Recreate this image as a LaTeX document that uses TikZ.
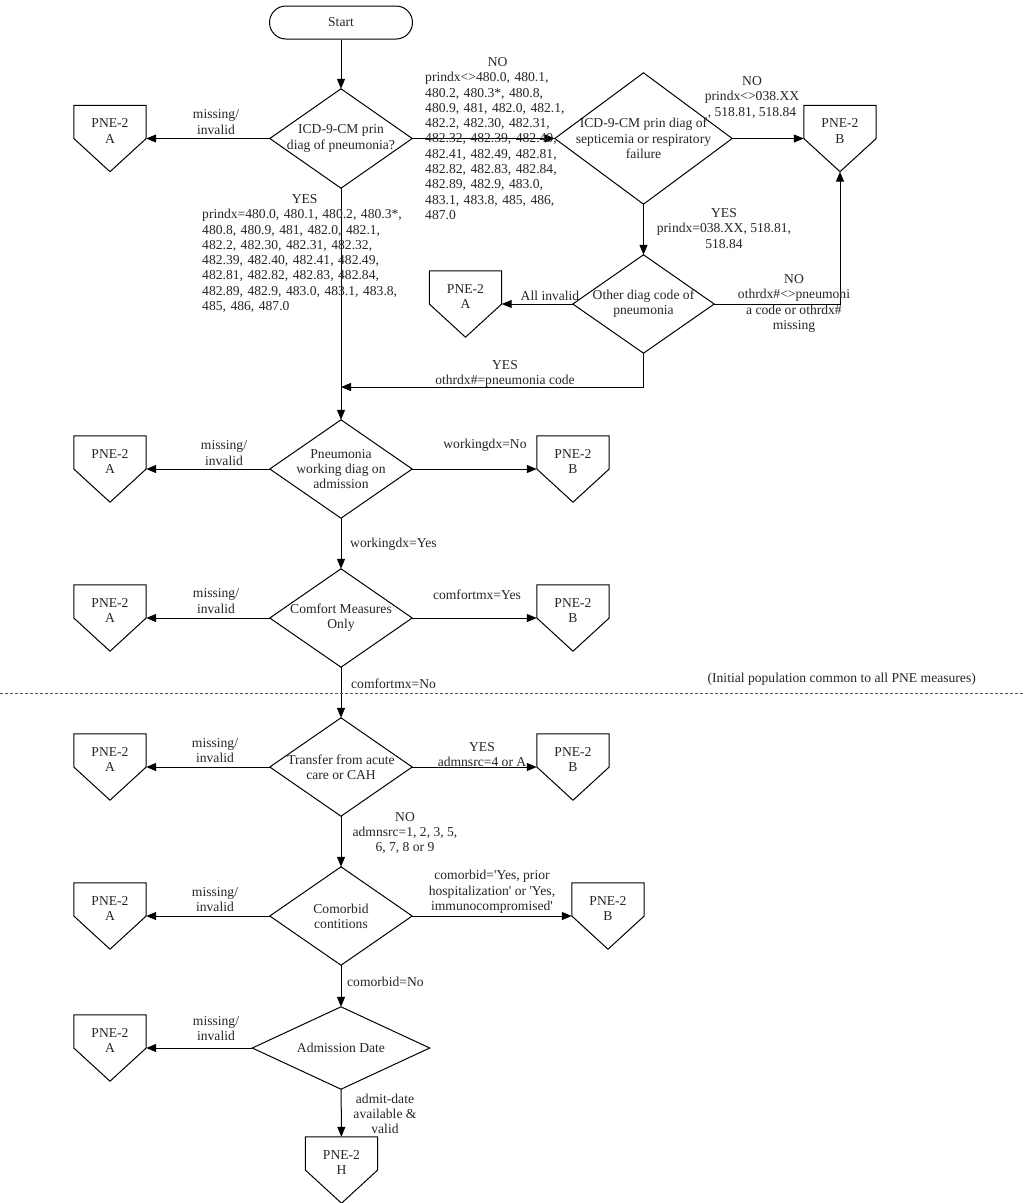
\documentclass[tikz,border=0pt]{standalone}
\usepackage{fontspec}
\setmainfont{Liberation Serif}
\usetikzlibrary{arrows.meta}

\tikzset{
  base/.style={font=\fontsize{13.6pt}{15.3pt}\selectfont, text=black!85, inner sep=0pt, align=center},
  decision/.style 2 args={base, rectangle, minimum width=#1pt, minimum height=#2pt},
  offpage/.style={base, rectangle, minimum width=72pt, minimum height=66pt},
  terminal/.style={base, draw, line width=1pt, rounded corners=16.5pt, minimum width=143pt, minimum height=33pt},
  lbl/.style={base},
  outline/.style={draw, line width=1pt, line join=miter},
  arr/.style={draw, line width=1pt, -{Triangle[length=10pt,width=8pt]}},
  sep/.style={draw=black!65, line width=0.8pt, dash pattern=on 3pt off 2pt},
}

\begin{document}
\begin{tikzpicture}[x=1pt, y=-1pt]
\fill[white] (0,0) rectangle (1025,1203);
\useasboundingbox (0,0) rectangle (1025,1203);

% ---- nodes ----
\node[terminal] (start) at (341,22.5) {Start};

\node[decision={142}{99}] (d1) at (341,138.5) {ICD-9-CM prin\\diag of pneumonia?};
\node[offpage] (a1) at (110,138.5) {PNE-2\\A\\\mbox{}};
\node[decision={177}{131}] (d2) at (643.5,138.5) {ICD-9-CM prin diag of\\septicemia or respiratory\\failure};
\node[offpage] (b1) at (840,138.5) {PNE-2\\B\\\mbox{}};

\node[decision={141}{98}] (d3) at (643.5,304) {Other diag code of\\pneumonia};
\node[offpage] (a2) at (465.5,304) {PNE-2\\A\\\mbox{}};
\coordinate (j1) at (341,387);

\node[decision={142}{98}] (pn) at (341,469) {Pneumonia\\working diag on\\admission};
\node[offpage] (a3) at (110,469) {PNE-2\\A\\\mbox{}};
\node[offpage] (b3) at (573,469) {PNE-2\\B\\\mbox{}};

\node[decision={142}{98}] (cm) at (341,618) {Comfort Measures\\Only};
\node[offpage] (a4) at (110,618) {PNE-2\\A\\\mbox{}};
\node[offpage] (b4) at (573,618) {PNE-2\\B\\\mbox{}};

\node[decision={142}{98}] (tr) at (341,767) {Transfer from acute\\care or CAH};
\node[offpage] (a5) at (110,767) {PNE-2\\A\\\mbox{}};
\node[offpage] (b5) at (573,767) {PNE-2\\B\\\mbox{}};

\node[decision={142}{98}] (co) at (341,916) {Comorbid\\contitions};
\node[offpage] (a6) at (110,916) {PNE-2\\A\\\mbox{}};
\node[offpage] (b6) at (608,916) {PNE-2\\B\\\mbox{}};

\node[decision={177}{82}] (ad) at (341,1048) {Admission Date};
\node[offpage] (a7) at (110,1048) {PNE-2\\A\\\mbox{}};
\node[offpage] (h) at (341.5,1170) {PNE-2\\H\\\mbox{}};

% ---- shape outlines ----
\foreach \n in {d1,d2,d3,pn,cm,tr,co,ad}
  \draw[outline] (\n.north) -- (\n.east) -- (\n.south) -- (\n.west) -- cycle;
\foreach \n in {a1,b1,a2,a3,b3,a4,b4,a5,b5,a6,b6,a7,h}
  \draw[outline] (\n.north west) -- (\n.north east) -- (\n.east) -- (\n.south) -- (\n.west) -- cycle;

% ---- connectors ----
\draw[arr] (start) -- (d1);
\draw[arr] (d1) -- (a1);
\draw[arr] (d1) -- (d2);
\draw[arr] (d2) -- (b1);
\draw[arr] (d2) -- (d3);
\draw[arr] (d3) -- (a2);
\draw[arr] (d3.east) -| (b1.south);
\draw[arr] (d3.south) |- (j1);
\draw[arr] (d1) -- (pn);
\draw[arr] (pn) -- (a3);
\draw[arr] (pn) -- (b3);
\draw[arr] (pn) -- (cm);
\draw[arr] (cm) -- (a4);
\draw[arr] (cm) -- (b4);
\draw[arr] (cm) -- (tr);
\draw[arr] (tr) -- (a5);
\draw[arr] (tr) -- (b5);
\draw[arr] (tr) -- (co);
\draw[arr] (co) -- (a6);
\draw[arr] (co) -- (b6);
\draw[arr] (co) -- (ad);
\draw[arr] (ad) -- (a7);
\draw[arr] (ad) -- (h);

% ---- separator between initial population and measure-specific steps ----
\draw[sep] (0,693) -- (1025,693);
\node[lbl, anchor=east] (pop) at (976,679) {(Initial population common to all PNE measures)};

% ---- connector labels ----
\node[lbl] (l1) at (216,122) {missing/\\invalid};
\node[lbl, anchor=west, text width=145pt, align=left] (l2) at (425,138.5)
  {\makebox[\hsize]{NO}\\prindx<>480.0, 480.1,\\480.2, 480.3*, 480.8,\\480.9, 481, 482.0, 482.1,\\482.2, 482.30, 482.31,\\482.32, 482.39, 482.40,\\482.41, 482.49, 482.81,\\482.82, 482.83, 482.84,\\482.89, 482.9, 483.0,\\483.1, 483.8, 485, 486,\\487.0};
\node[lbl, anchor=west, text width=205pt, align=left] (l3) at (202,253.5)
  {\makebox[\hsize]{YES}\\prindx=480.0, 480.1, 480.2, 480.3*,\\480.8, 480.9, 481, 482.0, 482.1,\\482.2, 482.30, 482.31, 482.32,\\482.39, 482.40, 482.41, 482.49,\\482.81, 482.82, 482.83, 482.84,\\482.89, 482.9, 483.0, 483.1, 483.8,\\485, 486, 487.0};
\node[lbl] (l4) at (752,97.5) {NO\\prindx<>038.XX\\, 518.81, 518.84};
\node[lbl] (l5) at (724,228.5) {YES\\prindx=038.XX, 518.81,\\518.84};
\node[lbl] (l6) at (550,296) {All invalid};
\node[lbl] (l7) at (794,303.5) {NO\\othrdx\#<>pneumoni\\a code or othrdx\#\\missing};
\node[lbl] (l8) at (505,374) {YES\\othrdx\#=pneumonia code};

\node[lbl] (l9) at (224,453) {missing/\\invalid};
\node[lbl] (l10) at (485,445) {workingdx=No};
\node[lbl, anchor=west] (l11) at (350,544) {workingdx=Yes};

\node[lbl] (l12) at (216,601) {missing/\\invalid};
\node[lbl] (l13) at (477,595) {comfortmx=Yes};
\node[lbl, anchor=west] (l14) at (351,684) {comfortmx=No};

\node[lbl] (l15) at (215,750.5) {missing/\\invalid};
\node[lbl] (l16) at (482,754.5) {YES\\admnsrc=4 or A};
\node[lbl] (l17) at (405,833) {NO\\admnsrc=1, 2, 3, 5,\\6, 7, 8 or 9};

\node[lbl] (l18) at (215,899.5) {missing/\\invalid};
\node[lbl] (l19) at (492,892) {comorbid=\textquotesingle Yes, prior\\hospitalization\textquotesingle{} or \textquotesingle Yes,\\immunocompromised\textquotesingle};
\node[lbl, anchor=west] (l20) at (347,982) {comorbid=No};

\node[lbl] (l21) at (216,1028.5) {missing/\\invalid};
\node[lbl] (l22) at (385,1114) {admit-date\\available \&\\valid};
\end{tikzpicture}
\end{document}
